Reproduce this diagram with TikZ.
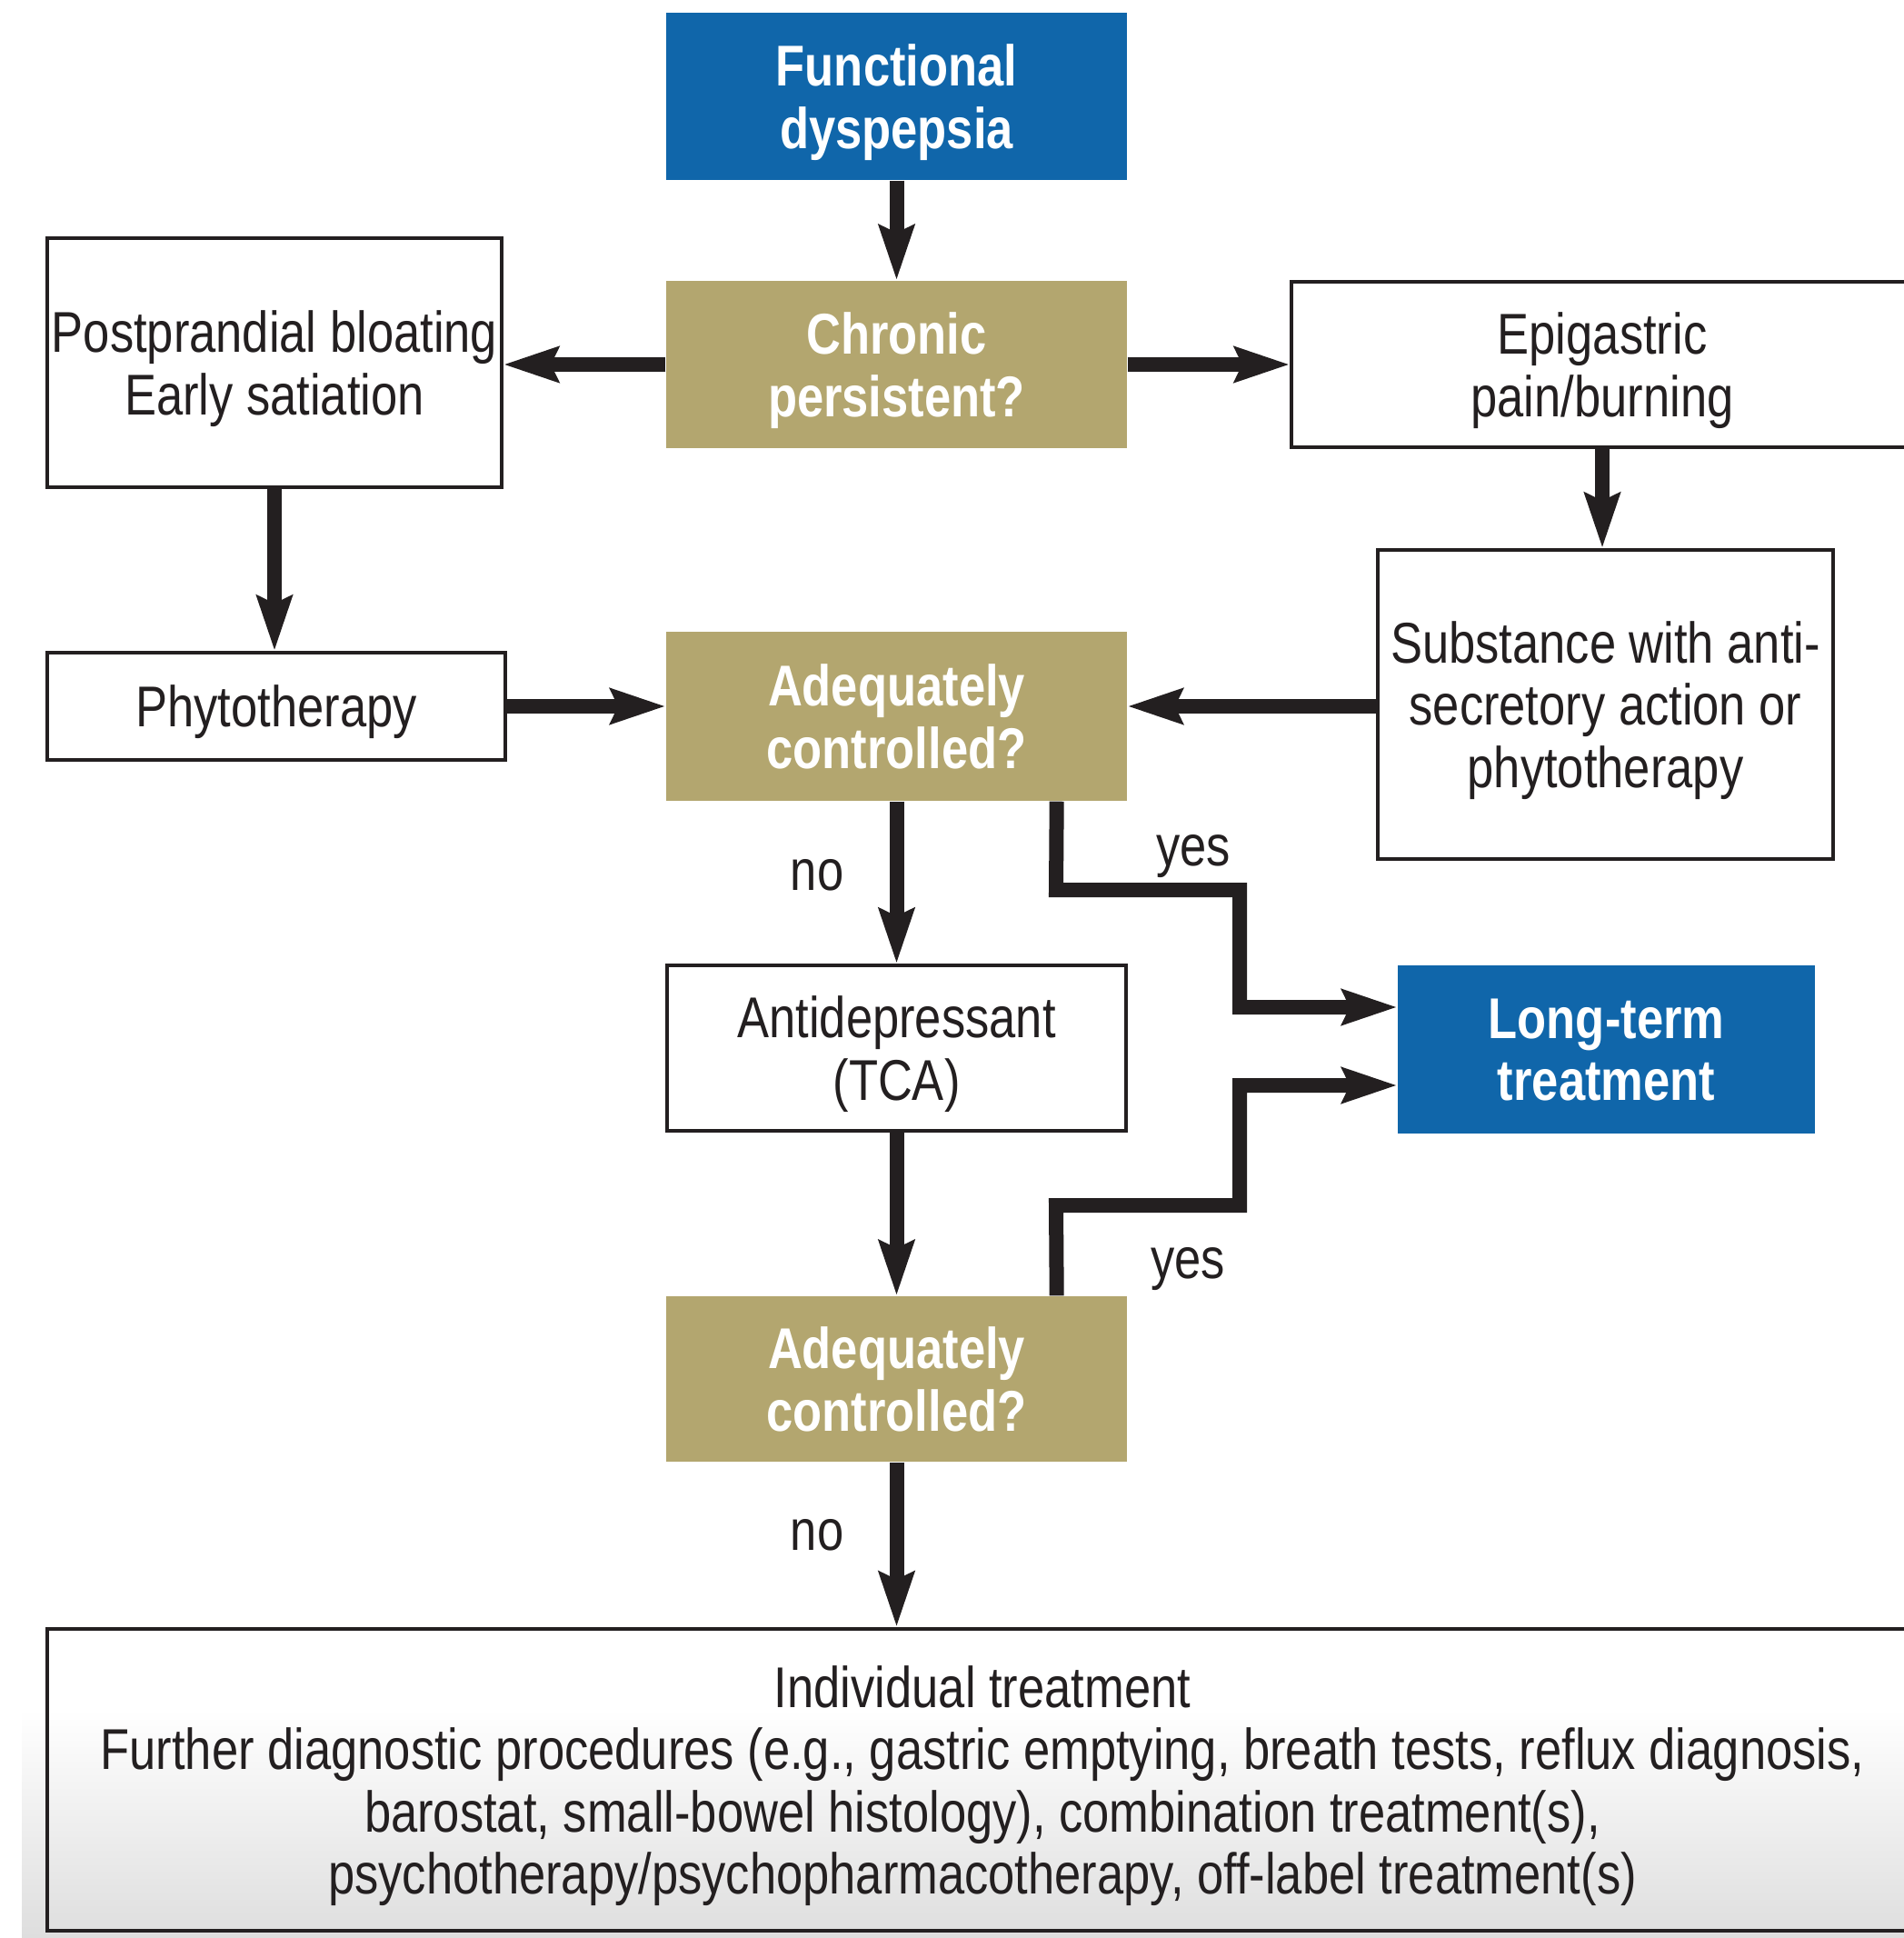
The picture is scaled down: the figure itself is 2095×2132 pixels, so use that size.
\documentclass[tikz,border=0pt]{standalone}
\usepackage{fontspec}
\setmainfont{Liberation Sans}[FakeStretch=0.83]
\usetikzlibrary{arrows.meta,calc}
\definecolor{fdblue}{RGB}{16,102,170}
\definecolor{khaki}{RGB}{179,166,111}
\definecolor{ink}{RGB}{35,31,32}
\newcommand{\fs}{\fontsize{18pt}{19.5pt}\selectfont}
\begin{document}
\begin{tikzpicture}[x=0.1mm,y=-0.1mm,
  box/.style={draw=ink,line width=0.4mm,fill=white,text=ink,inner sep=0pt,align=center,font=\fs,text depth=0pt},
  bluebox/.style={fill=fdblue,text=white,inner sep=0pt,align=center,font=\fs\bfseries,text depth=0pt},
  khakibox/.style={fill=khaki,text=white,inner sep=0pt,align=center,font=\fs\bfseries,text depth=0pt},
  arr/.style={draw=ink,line width=1.6mm,line join=miter,-{Stealth[length=6mm,width=3.8mm,inset=0.8mm]}},
  lbl/.style={text=ink,font=\fs,inner sep=0pt,text depth=0pt}]
\useasboundingbox (0,0) rectangle (2095,2132);
\shade[top color=white,bottom color=white!87!black] (24,1880) rectangle (2095,2132);

\node[bluebox,minimum width=50.7mm,minimum height=18.4mm] (fd) at (986.5,106) {Functional\\dyspepsia};
\node[khakibox,minimum width=50.7mm,minimum height=18.4mm] (cp) at (986.5,401) {Chronic\\persistent?};
\node[box,minimum width=50mm,minimum height=27.4mm] (pp) at (302,399) {Postprandial bloating\\Early satiation};
\node[box,minimum width=68.4mm,minimum height=18.2mm] (epi) at (1763,401) {Epigastric\\pain/burning};
\node[box,minimum width=50.1mm,minimum height=34mm] (sub) at (1766.5,775) {Substance with anti-\\secretory action or\\phytotherapy};
\node[box,minimum width=50.4mm,minimum height=11.8mm] (phy) at (304,777) {Phytotherapy};
\node[khakibox,minimum width=50.7mm,minimum height=18.6mm] (ac1) at (986.5,788) {Adequately\\controlled?};
\node[box,minimum width=50.5mm,minimum height=18.2mm] (tca) at (986.5,1153) {Antidepressant\\(TCA)};
\node[bluebox,minimum width=45.9mm,minimum height=18.5mm] (lt) at (1767.5,1154.5) {Long-term\\treatment};
\node[khakibox,minimum width=50.7mm,minimum height=18.2mm] (ac2) at (986.5,1517) {Adequately\\controlled?};
\node[box,fill=none,line width=0.45mm,minimum width=205.8mm,minimum height=33.2mm] (ind) at (1081,1958)
  {Individual treatment\\Further diagnostic procedures (e.g., gastric emptying, breath tests, reflux diagnosis,\\barostat, small-bowel histology), combination treatment(s),\\psychotherapy/psychopharmacotherapy, off-label treatment(s)};

\draw[arr] (fd.south) -- (cp.north);
\draw[arr] (cp.west) -- (cp.west -| pp.east);
\draw[arr] (cp.east) -- (cp.east -| epi.west);
\draw[arr] (pp.south) -- (pp.south |- phy.north);
\draw[arr] (epi.south) -- (epi.south |- sub.north);
\draw[arr] (phy.east) -- (phy.east -| ac1.west);
\draw[arr] (sub.west |- phy.east) -- (phy.east -| ac1.east);
\draw[arr] (ac1.south) -- (tca.north);
\draw[arr] (tca.south) -- (ac2.north);
\draw[arr] (ac2.south) -- (ac2.south |- ind.north);

\coordinate (y1s) at ($(ac1.south east)+(-78,0)$);
\coordinate (y2s) at ($(ac2.north east)+(-78,0)$);
\draw[arr] (y1s) -- (1162,979) -- (1364,979) -- (1364,1108) -- (1364,1108 -| lt.west);
\draw[arr] (y2s) -- (1162,1326) -- (1364,1326) -- (1364,1194) -- (1364,1194 -| lt.west);

\node[lbl] (no1) at (899,962) {no};
\node[lbl] (no2) at (899,1688) {no};
\node[lbl] (yes1) at (1313,935) {yes};
\node[lbl] (yes2) at (1307,1389) {yes};
\end{tikzpicture}
\end{document}
